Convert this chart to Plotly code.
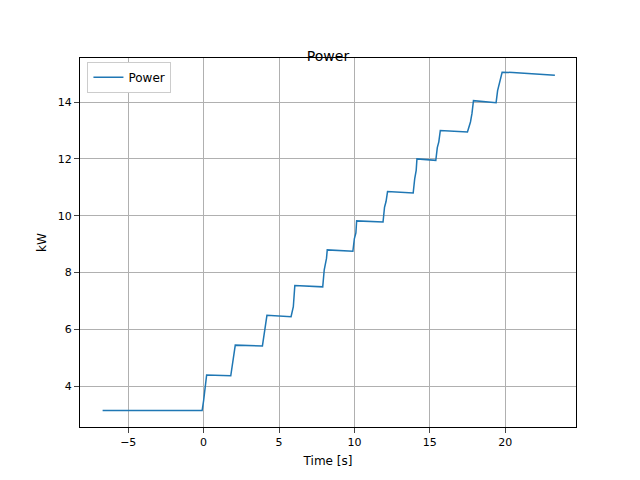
import plotly.graph_objects as go

time_s = [-6.7, -0.1, 0.0, 0.1, 0.2, 1.8, 2.0, 2.1, 3.9, 4.0, 4.1, 4.2, 5.8, 5.95, 6.05,
          7.9, 8.0, 8.15, 8.2, 9.9, 10.0, 10.1, 10.15, 11.9, 12.0, 12.1, 12.2, 13.9, 14.0,
          14.1, 14.15, 15.4, 15.5, 15.6, 15.7, 17.5, 17.7, 17.8, 17.9, 19.4, 19.5, 19.6,
          19.8, 20.5, 22.5, 23.3]
power_kw = [3.15, 3.15, 3.5, 3.9, 4.4, 4.37, 5.0, 5.45, 5.42, 5.8, 6.0, 6.5, 6.45, 6.8, 7.55,
            7.5, 8.1, 8.5, 8.8, 8.75, 9.2, 9.4, 9.82, 9.78, 10.3, 10.5, 10.85, 10.8, 11.3,
            11.6, 12.0, 11.95, 12.4, 12.6, 13.0, 12.95, 13.3, 13.6, 14.05, 13.98, 14.4, 14.6,
            15.05, 15.04, 14.97, 14.94]

fig = go.Figure(go.Scatter(x=time_s, y=power_kw, mode="lines", name="Power",
                           line=dict(color="#1f77b4", width=1.5)))

axis = dict(showline=True, linecolor="black", mirror=True, ticks="outside",
            gridcolor="#b0b0b0", zeroline=False, tickfont=dict(size=11))
fig.update_layout(
    width=640, height=480, template="none",
    font=dict(family="DejaVu Sans", color="black"),
    title=dict(text="Power", x=0.5, y=0.91, font=dict(size=14)),
    margin=dict(l=72, r=72, t=50, b=61),
    plot_bgcolor="white", paper_bgcolor="white",
    xaxis=dict(title=dict(text="Time [s]", font=dict(size=12), standoff=8),
               range=[-8.2, 24.7], dtick=5, **axis),
    yaxis=dict(title=dict(text="kW", font=dict(size=12)), range=[2.57, 15.55], dtick=2, **axis),
    showlegend=True,
    legend=dict(x=0.015, y=0.99, bordercolor="#cccccc", borderwidth=1, bgcolor="white",
                font=dict(size=12)),
)
fig.write_html("out.html")
